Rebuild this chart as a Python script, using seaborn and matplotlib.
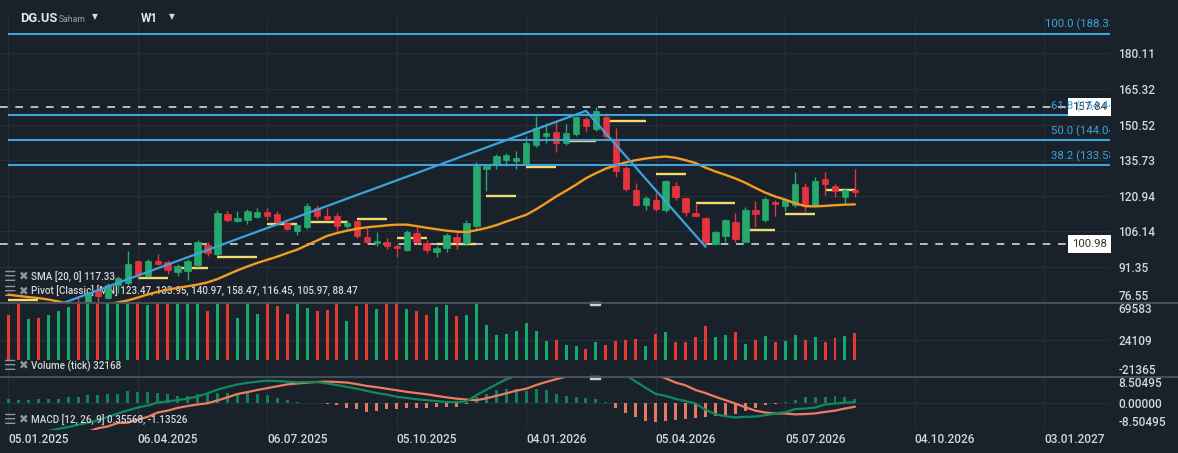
import numpy as np
import pandas as pd
import matplotlib
matplotlib.use("Agg")
import matplotlib.pyplot as plt
import matplotlib.transforms as mtransforms
from matplotlib.lines import Line2D
from matplotlib.patches import Rectangle
import seaborn as sns

# ---------------- data ----------------
first_week = "2025-01-05"
n_weeks = 86
opens = [75.5, 73.5, 71.8, 74.0, 72.4, 74.5, 75.5, 76.8, 75.2, 81.2,
         78.6, 83.8, 84.8, 93.9, 87.7, 93.9, 93.5, 89.1, 89.8, 92.3,
         100.6, 96.8, 113.4, 110.6, 110.7, 111.9, 114.1, 113.4, 109.6, 106.1,
         107.9, 115.9, 112.6, 112.6, 108.2, 110.5, 103.9, 101.3, 101.8, 100.2,
         98.2, 105.5, 101.4, 97.4, 99.2, 103.9, 101.3, 108.2, 132.0, 133.8,
         135.8, 135.4, 134.7, 141.8, 145.9, 147.3, 143.0, 146.5, 152.7, 148.6,
         153.8, 143.7, 132.6, 123.4, 116.9, 119.2, 114.8, 125.0, 120.0, 113.7,
         111.7, 100.9, 104.0, 110.0, 101.9, 115.1, 110.7, 118.5, 116.5, 116.9,
         124.5, 116.9, 128.0, 125.0, 120.6, 123.4]
highs = [76.3, 74.2, 74.5, 74.6, 75.0, 76.0, 77.0, 79.1, 81.0, 83.2,
         84.8, 87.6, 97.8, 94.4, 94.5, 96.8, 94.2, 92.6, 94.6, 102.7,
         101.8, 115.1, 114.4, 114.4, 115.2, 116.0, 116.0, 114.7, 110.2, 109.3,
         118.1, 117.2, 115.8, 113.7, 110.9, 111.0, 107.5, 105.7, 103.4, 100.8,
         106.8, 108.0, 102.5, 100.0, 105.4, 105.7, 110.9, 135.1, 133.6, 138.2,
         138.6, 139.6, 145.8, 154.1, 151.1, 152.4, 150.8, 154.2, 153.7, 157.84,
         155.5, 149.1, 133.3, 126.3, 120.9, 122.6, 127.6, 126.6, 120.5, 117.9,
         112.2, 106.3, 111.4, 113.7, 116.2, 118.8, 120.4, 119.0, 119.8, 130.6,
         126.2, 128.9, 130.6, 125.6, 124.3, 132.1]
lows = [72.8, 71.0, 71.0, 71.5, 71.9, 73.8, 74.9, 74.5, 74.8, 76.3,
        77.9, 80.4, 84.0, 86.8, 87.0, 92.0, 88.4, 87.4, 86.1, 91.5,
        96.0, 96.0, 109.8, 110.2, 109.3, 111.5, 110.7, 108.9, 106.5, 104.7,
        107.2, 111.2, 110.8, 106.1, 107.6, 103.5, 101.0, 99.9, 98.8, 95.3,
        97.8, 101.0, 97.1, 95.3, 97.4, 98.9, 100.6, 107.5, 122.7, 132.1,
        133.1, 132.1, 134.2, 141.0, 143.0, 139.3, 142.1, 145.8, 147.6, 148.0,
        144.4, 128.9, 122.7, 116.5, 114.8, 114.7, 114.3, 119.2, 112.7, 112.3,
        100.98, 100.6, 101.9, 101.9, 101.5, 107.8, 110.2, 112.6, 114.4, 116.3,
        114.4, 116.4, 121.3, 120.2, 116.9, 120.6]
closes = [73.2, 71.6, 73.9, 72.3, 74.6, 75.6, 76.6, 75.0, 80.6, 79.1,
          84.0, 86.9, 92.7, 88.5, 93.6, 92.7, 89.9, 91.9, 93.9, 101.5,
          97.3, 113.9, 110.9, 111.7, 114.7, 114.2, 112.7, 109.8, 107.2, 108.9,
          116.8, 112.3, 111.4, 108.2, 109.7, 104.0, 101.5, 102.2, 99.9, 99.0,
          106.0, 101.5, 98.2, 99.3, 104.7, 101.5, 109.7, 133.1, 133.1, 137.5,
          137.9, 136.5, 142.8, 149.0, 146.9, 143.0, 146.9, 153.6, 150.1, 156.2,
          145.9, 131.4, 123.8, 116.9, 120.0, 115.4, 127.1, 120.2, 114.1, 112.7,
          101.9, 105.8, 110.9, 103.1, 115.1, 113.3, 119.7, 117.5, 119.2, 125.9,
          116.9, 127.1, 125.9, 122.7, 123.4, 122.3]
volumes = [55000, 72000, 50000, 51500, 55000, 60000, 65000, 85000, 100000, 95000,
           90000, 100000, 110000, 90000, 67700, 80000, 85000, 90000, 82000, 95000,
           59400, 140000, 90000, 51300, 75000, 56600, 78000, 66200, 56600, 80000,
           63500, 59400, 60600, 82000, 46900, 66200, 85000, 61600, 80000, 76000,
           61600, 59400, 55200, 64900, 67700, 54200, 55400, 72000, 43100, 30800,
           32000, 34900, 45500, 35700, 23400, 24700, 18400, 17200, 13500, 22100,
           18400, 23400, 24700, 25800, 17200, 32000, 34500, 22100, 22100, 28300,
           41900, 28300, 30800, 34500, 19700, 24700, 29400, 22100, 23400, 30800,
           24700, 28300, 22100, 27000, 29400, 32168]
sma20 = [79.8, 79.3, 78.8, 78.4, 77.8, 77.0, 76.0, 75.5, 75.2, 75.3,
         75.8, 76.6, 77.4, 78.6, 79.9, 81.0, 81.9, 82.6, 83.3, 84.0,
         84.9, 86.3, 88.1, 89.9, 91.5, 93.0, 94.3, 95.6, 97.1, 98.5,
         100.4, 102.3, 104.2, 105.4, 106.4, 107.2, 107.8, 108.2, 108.6, 108.9,
         108.9, 108.3, 107.6, 107.0, 106.4, 106.0, 105.8, 106.6, 107.5, 108.7,
         110.2, 111.6, 113.0, 115.3, 117.9, 120.6, 123.0, 125.5, 128.2, 130.3,
         132.2, 133.6, 134.8, 135.7, 136.4, 136.9, 137.2, 136.7, 135.7, 134.5,
         132.6, 131.0, 129.6, 128.1, 126.3, 124.2, 122.2, 120.6, 119.3, 117.8,
         116.6, 116.5, 116.7, 117.0, 117.2, 117.33]
macd_line = [-10.5, -10.2, -9.9, -9.5, -9.0, -8.3, -7.7, -7.0, -6.3, -5.5,
             -4.4, -3.3, -2.3, -1.4, -0.7, 0.2, 0.6, 1.0, 1.5, 2.2,
             3.2, 4.4, 5.3, 6.1, 6.6, 7.0, 7.3, 7.2, 7.0, 6.8,
             6.9, 6.9, 6.4, 5.9, 5.3, 4.7, 4.0, 3.3, 2.8, 2.1,
             1.7, 1.3, 1.0, 0.7, 0.4, 0.4, 0.6, 2.6, 4.4, 6.1,
             7.8, 8.9, 10.0, 11.1, 11.8, 12.2, 12.4, 12.7, 12.6, 12.4,
             11.7, 10.4, 9.1, 7.0, 5.0, 3.0, 2.4, 1.4, 0.7, -0.1,
             -2.1, -3.6, -4.2, -4.6, -4.4, -4.3, -3.9, -3.3, -2.9, -1.9,
             -1.7, -1.4, -0.4, -0.1, 0.15, 0.35568]
macd_signal = [-11.2, -10.8, -10.5, -10.4, -10.4, -9.8, -9.8, -9.3, -9.2, -8.1,
               -7.5, -6.4, -6.3, -5.3, -4.4, -3.0, -2.4, -1.5, -0.9, -0.4,
               0.0, 0.9, 1.9, 3.0, 3.6, 4.3, 4.9, 5.5, 6.1, 6.4,
               6.7, 6.9, 7.0, 6.9, 6.7, 6.2, 5.6, 5.2, 4.7, 4.2,
               3.7, 3.3, 2.9, 2.4, 1.9, 1.5, 1.2, 1.0, 1.6, 2.4,
               3.2, 4.1, 4.7, 5.9, 6.9, 7.8, 8.6, 9.3, 10.1, 10.9,
               11.5, 11.8, 12.1, 11.6, 10.7, 9.2, 8.1, 6.7, 5.8, 4.3,
               3.3, 2.1, 1.0, -0.1, -1.3, -2.4, -3.0, -3.3, -3.3, -3.6,
               -3.5, -3.3, -2.8, -2.4, -1.7, -1.13526]
macd_hist = [1.3, 1.1, 1.1, 1.3, 1.5, 1.5, 2.0, 2.0, 2.7, 2.7,
             3.1, 3.1, 4.0, 3.8, 3.7, 3.3, 3.0, 2.4, 2.4, 3.0,
             3.3, 3.4, 3.2, 3.0, 3.3, 3.0, 2.7, 1.7, 0.9, 0.4,
             0.2, 0.1, -0.15, -0.6, -1.4, -1.9, -2.7, -2.4, -1.9, -1.9,
             -1.7, -1.5, -1.4, -1.3, -1.1, -1.1, -0.2, 1.9, 2.9, 4.3,
             4.5, 4.5, 4.0, 4.5, 4.2, 2.9, 2.4, 2.1, 1.6, 1.3,
             0.4, -1.4, -3.0, -4.6, -5.7, -6.2, -5.7, -5.4, -5.2, -4.8,
             -4.6, -4.1, -3.8, -3.6, -2.4, -1.4, -0.5, -0.3, 0.4, 1.1,
             1.9, 1.9, 2.1, 2.4, 1.9, 1.5]
pivot_months = ["2025-01", "2025-02", "2025-03", "2025-04", "2025-05", "2025-06",
                "2025-07", "2025-08", "2025-09", "2025-10", "2025-11", "2025-12",
                "2026-01", "2026-02", "2026-03", "2026-04", "2026-05", "2026-06",
                "2026-07", "2026-08"]
pivot_values = [77.5, 74.6, 73.8, 86.6, 90.7, 95.3,
                109.0, 109.8, 111.1, 103.2, 100.8, 121.0,
                132.8, 143.7, 152.1, 130.0, 118.1, 106.8,
                113.5, 123.47]
fib_pct = [38.2, 50.0, 61.8, 100.0]
fib_prices = [133.58, 144.04, 154.44, 188.33]
zigzag_week = [2, 58, 70]
zigzag_price = [71.0, 156.2, 99.7]
marker_prices = [157.84, 100.98]
price_ticks = [76.55, 91.35, 106.14, 120.94, 135.73, 150.52, 165.32, 180.11]
vol_ticks = [-21365, 24109, 69583]
macd_ticks = [-8.50495, 0.0, 8.50495]
date_labels = ["05.01.2025", "06.04.2025", "06.07.2025", "05.10.2025", "04.01.2026",
               "05.04.2026", "05.07.2026", "04.10.2026", "03.01.2027"]

# ---------------- style ----------------
BG = "#19212a"
GRID = "#252f38"
GREEN = "#25a96c"
RED = "#e6343f"
VGREEN = "#14aa6c"
VRED = "#e43a30"
HGREEN = "#0f8157"
HRED = "#e47b61"
MGREEN = "#0f8a5c"
MSIG = "#ef7c60"
ORANGE = "#f39c22"
BLUE = "#3ea3db"
YELLOW = "#efdc6c"
TXT = "#d4d7da"
ICON = "#8f969c"

sns.set_theme(style="dark", rc={"axes.facecolor": BG, "figure.facecolor": BG})
plt.rcParams["font.family"] = ["Roboto", "DejaVu Sans"]

W, H = 1178, 453
fig = plt.figure(figsize=(W / 100, H / 100), dpi=100)
fig.patch.set_facecolor(BG)


def rect(x0, y0, x1, y1):
    return [x0 / W, 1 - y1 / H, (x1 - x0) / W, (y1 - y0) / H]


ax = fig.add_axes(rect(0, 17, 1110, 302.5))
axv = fig.add_axes(rect(0, 303, 1110, 377))
axm = fig.add_axes(rect(0, 377, 1110, 429.5))

dates = pd.date_range(first_week, periods=n_weeks, freq="7D")
idx = np.arange(n_weeks)
o = np.array(opens); c = np.array(closes)
hi = np.array(highs); lo = np.array(lows)
up = c >= o
ccol = np.where(up, GREEN, RED)

tick_dates = pd.to_datetime(date_labels, dayfirst=True)
tick_pos = [(d - dates[0]).days / 7 for d in tick_dates]
XL = (-0.833, 110.61)

for a in (ax, axv, axm):
    a.set_facecolor(BG)
    a.set_xlim(*XL)
    for s in a.spines.values():
        s.set_visible(False)
    a.set_xticks(tick_pos)
    a.grid(True, color=GRID, lw=0.9)
    a.set_axisbelow(True)
    a.yaxis.tick_right()
    a.tick_params(axis="both", length=0, labelsize=8.6, labelcolor=TXT)
    a.tick_params(axis="y", pad=6)
ax.tick_params(labelbottom=False)
axv.tick_params(labelbottom=False)
axm.set_xticklabels(date_labels)
axm.tick_params(axis="x", pad=2.5)
for lab in axm.get_xticklabels():
    lab.set_ha("left")
    lab.set_fontweight("medium")


def ftext(a, x, y, s, **kw):
    return a.text(x / W, 1 - y / H, s, transform=fig.transFigure, **kw)


def legend_line(a, yy, s, z):
    ftext(a, 4, yy, "\u2630", fontsize=10, color=ICON, va="center",
          family="DejaVu Sans", zorder=z)
    ftext(a, 18, yy, "\u2716", fontsize=8.3, color=ICON, va="center",
          family="DejaVu Sans", zorder=z)
    ftext(a, 31, yy, s, fontsize=7.1, color=TXT, va="center", zorder=z,
          fontweight="medium")


# ---------- main panel ----------
ax.set_ylim(76.55, 195.2)
ax.set_yticks(price_ticks)
ax.set_yticklabels([f"{v:.2f}" for v in price_ticks])

# monthly pivot segments
for m, v in zip(pivot_months, pivot_values):
    sel = idx[(dates.strftime("%Y-%m") == m)]
    if len(sel):
        ax.hlines(v, sel.min(), sel.max(), color=YELLOW, lw=1.7, zorder=2)

# dashed price markers
for p in marker_prices:
    ax.axhline(p, xmin=0, xmax=1070 / 1110, color="#d6d6d6", lw=1.2,
               ls=(0, (4.6, 4.6)), zorder=2)

legend_line(ax, 277, "SMA [20, 0] 117.33", 2.8)
legend_line(ax, 291.5, "Pivot [Classic] [MN] 123.47, 133.95, 140.97, 158.47, 116.45, 105.97, 88.47", 2.8)

# candles
ax.vlines(idx, lo, hi, colors=ccol, lw=1.0, zorder=3)
body_h = np.maximum(np.abs(c - o), 0.35)
ax.bar(idx, body_h, bottom=np.minimum(o, c), width=0.64, color=ccol,
       edgecolor=ccol, lw=0.5, zorder=4)

# SMA
sns.lineplot(x=idx, y=sma20, ax=ax, color=ORANGE, lw=1.7, zorder=5, legend=False)

# fibonacci levels
for pct, p in zip(fib_pct, fib_prices):
    ax.hlines(p, 0, XL[1], color=BLUE, lw=1.5, zorder=5.5)
trans_lab = mtransforms.blended_transform_factory(ax.transAxes, ax.transData)
for p in marker_prices:
    ax.text(1.0 - 3.2 / 1110, p, f"{p:.2f}", transform=trans_lab, ha="right",
            va="center", fontsize=8.2, color="#333333", zorder=6,
            bbox=dict(boxstyle="square,pad=0.36", fc="white", ec="none"))
off = mtransforms.offset_copy(trans_lab, fig=fig, y=2.5, units="points")
for pct, p in zip(fib_pct, fib_prices):
    ax.text(1119 / 1110, p, f"{pct:.1f} ({p:.2f})", transform=off, ha="right",
            va="bottom", fontsize=8.2, color=BLUE, clip_on=True, zorder=6.5)

# zigzag drawing
sns.lineplot(x=zigzag_week, y=zigzag_price, ax=ax, color=BLUE, lw=1.6,
             zorder=6, legend=False)

# ---------- volume panel ----------
axv.set_ylim(vol_ticks[0], vol_ticks[-1])
axv.set_yticks(vol_ticks)
axv.set_yticklabels([str(v) for v in vol_ticks])
axv.bar(idx, volumes, width=0.3, color=np.where(up, VGREEN, VRED), lw=0,
        edgecolor="none", zorder=3)
legend_line(axv, 366, "Volume (tick) 32168", 4)

# ---------- MACD panel ----------
axm.set_ylim(macd_ticks[0], macd_ticks[-1])
axm.set_yticks(macd_ticks)
axm.set_yticklabels([f"{v:.5f}" for v in macd_ticks])
hist = np.array(macd_hist)
axm.bar(idx, hist, width=0.3, color=np.where(hist >= 0, HGREEN, HRED), lw=0,
        edgecolor="none", zorder=3)
sns.lineplot(x=idx, y=macd_signal, ax=axm, color=MSIG, lw=1.6, zorder=4, legend=False)
sns.lineplot(x=idx, y=macd_line, ax=axm, color=MGREEN, lw=1.6, zorder=4.5, legend=False)
legend_line(axm, 420, "MACD [12, 26, 9] 0.35568, -1.13526", 5)

for a in (ax, axv, axm):
    a.set_xlabel(""); a.set_ylabel("")
    ticks = a.yaxis.get_major_ticks()
    ticks[0].label2.set_va("bottom")
    if a is not ax:
        ticks[-1].label2.set_va("top")
    for t in ticks:
        t.label2.set_fontweight("medium")

# separators & handles
for yy in (303, 377):
    fig.add_artist(Line2D([0, 1], [1 - yy / H] * 2, transform=fig.transFigure,
                          color="#4a535c", lw=1.3))
    fig.add_artist(Rectangle((590 / W, 1 - (yy + 1.5) / H), 10 / W, 3 / H,
                             transform=fig.transFigure, color="#cfcfcf"))

# header
fig.text(20 / W, 1 - 19 / H, "DG.US", fontsize=9.3, fontweight="bold", color="#e6e8ea", va="center")
fig.text(59 / W, 1 - 20 / H, "Saham", fontsize=6.2, color="#9aa3ab", va="center")
fig.text(95 / W, 1 - 17 / H, "\u25BC", fontsize=5.5, color="#d8dadc", va="center", ha="center", family="DejaVu Sans")
fig.text(141 / W, 1 - 19 / H, "W1", fontsize=8.5, fontweight="bold", color="#e6e8ea", va="center")
fig.text(172 / W, 1 - 17 / H, "\u25BC", fontsize=5.5, color="#d8dadc", va="center", ha="center", family="DejaVu Sans")

fig.savefig("out.png", dpi=100, facecolor=BG)
